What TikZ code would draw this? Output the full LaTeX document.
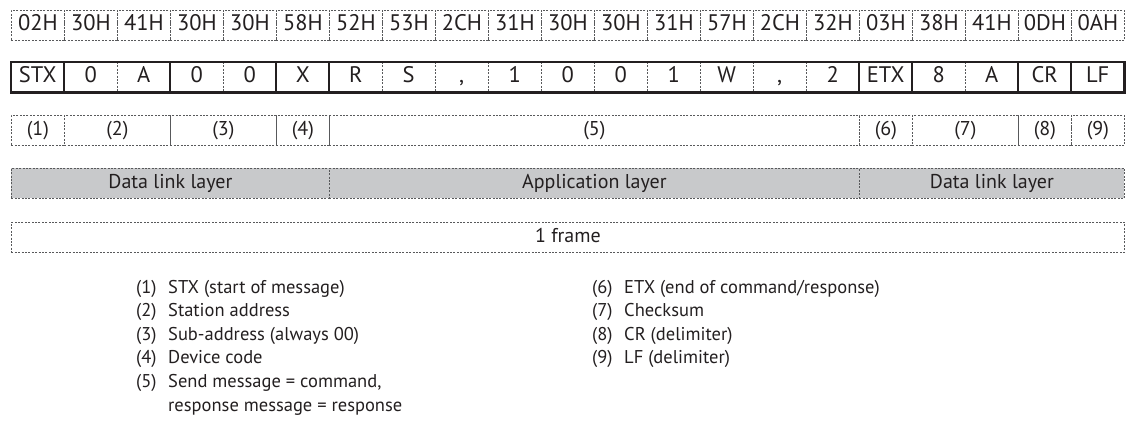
\documentclass[tikz,border=0pt]{standalone}
\usepackage{fontspec}
\setmainfont{PT Sans}
\definecolor{ink}{HTML}{231F20}
\definecolor{linegray}{HTML}{58595B}
\definecolor{layerfill}{HTML}{C8C9CB}
\begin{document}
\begin{tikzpicture}[x=1pt,y=-1pt,
  dsh/.style={draw=linegray,line width=0.8pt,dash pattern=on 2pt off 1.4pt},
  cell/.style={inner sep=0pt,minimum height=30pt,anchor=north west,text=ink,
    font=\fontsize{22.5}{26}\selectfont,text height=15.5pt,text depth=4.5pt},
  hexcell/.style={cell,dsh,minimum width=53pt},
  chcell/.style={cell,minimum width=53pt},
  grpcell/.style={cell,dsh,font=\fontsize{20}{24}\selectfont,text height=14pt,text depth=4pt},
  laycell/.style={grpcell,fill=layerfill},
  thin sep/.style={dsh},
  grp sep/.style={draw=ink,line width=1.3pt},
  outer/.style={draw=ink,line width=2.2pt},
  item/.style={anchor=west,inner sep=0pt,text=ink,text height=14pt,text depth=4pt,
    font=\fontsize{18.5}{22}\selectfont}]
\useasboundingbox (0,0) rectangle (1131,424);
% hex row
\foreach \t [count=\i from 0] in {02H,30H,41H,30H,30H,58H,52H,53H,2CH,31H,30H,30H,31H,57H,2CH,32H,03H,38H,41H,0DH,0AH}
  \node[hexcell] (h\i) at ({11+53*\i},10) {\t};
% character row
\foreach \t [count=\i from 0] in {STX,0,A,0,0,X,R,S,{,},1,0,0,1,W,{,},2,ETX,8,A,CR,LF}
  \node[chcell] (c\i) at ({11+53*\i},62) {\t};
\foreach \i in {2,4,7,8,9,10,11,12,13,14,15,18}
  \draw[thin sep] (c\i.north west) -- (c\i.south west);
\foreach \i in {1,3,5,6,16,17,19,20}
  \draw[grp sep] (c\i.north west) -- (c\i.south west);
\draw[outer] (c0.north west) rectangle (c20.south east);
% field numbers
\node[grpcell,minimum width=53pt]  (n1) at (11,115)  {(1)};
\node[grpcell,minimum width=106pt] (n2) at (64,115)  {(2)};
\node[grpcell,minimum width=106pt] (n3) at (170,115) {(3)};
\node[grpcell,minimum width=53pt]  (n4) at (276,115) {(4)};
\node[grpcell,minimum width=530pt] (n5) at (329,115) {(5)};
\node[grpcell,minimum width=53pt]  (n6) at (859,115) {(6)};
\node[grpcell,minimum width=106pt] (n7) at (912,115) {(7)};
\node[grpcell,minimum width=53pt]  (n8) at (1018,115) {(8)};
\node[grpcell,minimum width=53pt]  (n9) at (1071,115) {(9)};
% layers
\node[laycell,minimum width=318pt] (l1) at (11,168)  {Data link layer};
\node[laycell,minimum width=530pt] (l2) at (329,168) {Application layer};
\node[laycell,minimum width=265pt] (l3) at (859,168) {Data link layer};
% frame
\node[grpcell,minimum width=1113pt] (fr) at (11,222) {1 frame};
% legend, left column
\node[item] (a1) at (136,288)   {(1)};
\node[item] (b1) at (168,288)   {STX (start of message)};
\node[item] (a2) at (136,311.6) {(2)};
\node[item] (b2) at (168,311.6) {Station address};
\node[item] (a3) at (136,335.2) {(3)};
\node[item] (b3) at (168,335.2) {Sub-address (always 00)};
\node[item] (a4) at (136,358.8) {(4)};
\node[item] (b4) at (168,358.8) {Device code};
\node[item] (a5) at (136,382.4) {(5)};
\node[item] (b5) at (168,382.4) {Send message = command,};
\node[item] (b5b) at (168,406)  {response message = response};
% legend, right column
\node[item] (a6) at (592,288)   {(6)};
\node[item] (b6) at (624,288)   {ETX (end of command/response)};
\node[item] (a7) at (592,311.6) {(7)};
\node[item] (b7) at (624,311.6) {Checksum};
\node[item] (a8) at (592,335.2) {(8)};
\node[item] (b8) at (624,335.2) {CR (delimiter)};
\node[item] (a9) at (592,358.8) {(9)};
\node[item] (b9) at (624,358.8) {LF (delimiter)};
\end{tikzpicture}
\end{document}
